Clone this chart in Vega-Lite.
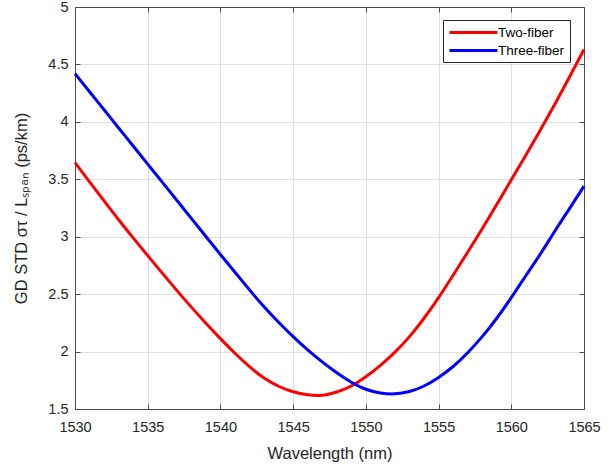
{
  "$schema": "https://vega.github.io/schema/vega-lite/v6.json",
  "width": 509,
  "height": 402,
  "autosize": {"type": "none"},
  "padding": {"left": 75, "top": 7, "right": 32, "bottom": 55},
  "background": "white",
  "config": {
    "view": {"stroke": null},
    "font": "Liberation Sans",
    "axis": {
      "domainColor": "#4d4d4d",
      "domainWidth": 1,
      "tickColor": "#4d4d4d",
      "tickSize": -5,
      "tickWidth": 1,
      "gridColor": "#dfdfdf",
      "gridWidth": 1,
      "labelFont": "Liberation Sans",
      "labelFontSize": 14.5,
      "labelColor": "#262626",
      "labelFlush": false,
      "titleFont": "Liberation Sans",
      "titleFontSize": 16.5,
      "titleFontWeight": "normal",
      "titleColor": "#262626"
    }
  },
  "data": {
    "values": [
      {"wavelength": 1530, "series": "Two-fiber", "gd": 3.645},
      {"wavelength": 1531, "series": "Two-fiber", "gd": 3.478},
      {"wavelength": 1532, "series": "Two-fiber", "gd": 3.312},
      {"wavelength": 1533, "series": "Two-fiber", "gd": 3.148},
      {"wavelength": 1534, "series": "Two-fiber", "gd": 2.99},
      {"wavelength": 1535, "series": "Two-fiber", "gd": 2.835},
      {"wavelength": 1536, "series": "Two-fiber", "gd": 2.683},
      {"wavelength": 1537, "series": "Two-fiber", "gd": 2.533},
      {"wavelength": 1538, "series": "Two-fiber", "gd": 2.387},
      {"wavelength": 1539, "series": "Two-fiber", "gd": 2.247},
      {"wavelength": 1540, "series": "Two-fiber", "gd": 2.113},
      {"wavelength": 1541, "series": "Two-fiber", "gd": 1.985},
      {"wavelength": 1542, "series": "Two-fiber", "gd": 1.868},
      {"wavelength": 1543, "series": "Two-fiber", "gd": 1.77},
      {"wavelength": 1544, "series": "Two-fiber", "gd": 1.698},
      {"wavelength": 1545, "series": "Two-fiber", "gd": 1.65},
      {"wavelength": 1546, "series": "Two-fiber", "gd": 1.624},
      {"wavelength": 1547, "series": "Two-fiber", "gd": 1.62},
      {"wavelength": 1548, "series": "Two-fiber", "gd": 1.648},
      {"wavelength": 1549, "series": "Two-fiber", "gd": 1.7},
      {"wavelength": 1550, "series": "Two-fiber", "gd": 1.78},
      {"wavelength": 1551, "series": "Two-fiber", "gd": 1.88},
      {"wavelength": 1552, "series": "Two-fiber", "gd": 1.995},
      {"wavelength": 1553, "series": "Two-fiber", "gd": 2.13},
      {"wavelength": 1554, "series": "Two-fiber", "gd": 2.29},
      {"wavelength": 1555, "series": "Two-fiber", "gd": 2.47},
      {"wavelength": 1556, "series": "Two-fiber", "gd": 2.665},
      {"wavelength": 1557, "series": "Two-fiber", "gd": 2.865},
      {"wavelength": 1558, "series": "Two-fiber", "gd": 3.07},
      {"wavelength": 1559, "series": "Two-fiber", "gd": 3.28},
      {"wavelength": 1560, "series": "Two-fiber", "gd": 3.495},
      {"wavelength": 1561, "series": "Two-fiber", "gd": 3.71},
      {"wavelength": 1562, "series": "Two-fiber", "gd": 3.93},
      {"wavelength": 1563, "series": "Two-fiber", "gd": 4.155},
      {"wavelength": 1564, "series": "Two-fiber", "gd": 4.39},
      {"wavelength": 1565, "series": "Two-fiber", "gd": 4.63},
      {"wavelength": 1530, "series": "Three-fiber", "gd": 4.42},
      {"wavelength": 1531, "series": "Three-fiber", "gd": 4.262},
      {"wavelength": 1532, "series": "Three-fiber", "gd": 4.105},
      {"wavelength": 1533, "series": "Three-fiber", "gd": 3.947},
      {"wavelength": 1534, "series": "Three-fiber", "gd": 3.79},
      {"wavelength": 1535, "series": "Three-fiber", "gd": 3.632},
      {"wavelength": 1536, "series": "Three-fiber", "gd": 3.475},
      {"wavelength": 1537, "series": "Three-fiber", "gd": 3.317},
      {"wavelength": 1538, "series": "Three-fiber", "gd": 3.16},
      {"wavelength": 1539, "series": "Three-fiber", "gd": 3.002},
      {"wavelength": 1540, "series": "Three-fiber", "gd": 2.845},
      {"wavelength": 1541, "series": "Three-fiber", "gd": 2.69},
      {"wavelength": 1542, "series": "Three-fiber", "gd": 2.537},
      {"wavelength": 1543, "series": "Three-fiber", "gd": 2.39},
      {"wavelength": 1544, "series": "Three-fiber", "gd": 2.255},
      {"wavelength": 1545, "series": "Three-fiber", "gd": 2.13},
      {"wavelength": 1546, "series": "Three-fiber", "gd": 2.015},
      {"wavelength": 1547, "series": "Three-fiber", "gd": 1.91},
      {"wavelength": 1548, "series": "Three-fiber", "gd": 1.815},
      {"wavelength": 1549, "series": "Three-fiber", "gd": 1.733},
      {"wavelength": 1550, "series": "Three-fiber", "gd": 1.672},
      {"wavelength": 1551, "series": "Three-fiber", "gd": 1.64},
      {"wavelength": 1552, "series": "Three-fiber", "gd": 1.632},
      {"wavelength": 1553, "series": "Three-fiber", "gd": 1.652},
      {"wavelength": 1554, "series": "Three-fiber", "gd": 1.7},
      {"wavelength": 1555, "series": "Three-fiber", "gd": 1.775},
      {"wavelength": 1556, "series": "Three-fiber", "gd": 1.87},
      {"wavelength": 1557, "series": "Three-fiber", "gd": 1.99},
      {"wavelength": 1558, "series": "Three-fiber", "gd": 2.13},
      {"wavelength": 1559, "series": "Three-fiber", "gd": 2.29},
      {"wavelength": 1560, "series": "Three-fiber", "gd": 2.47},
      {"wavelength": 1561, "series": "Three-fiber", "gd": 2.66},
      {"wavelength": 1562, "series": "Three-fiber", "gd": 2.85},
      {"wavelength": 1563, "series": "Three-fiber", "gd": 3.05},
      {"wavelength": 1564, "series": "Three-fiber", "gd": 3.245},
      {"wavelength": 1565, "series": "Three-fiber", "gd": 3.44}
    ]
  },
  "layer": [
    {
      "mark": {"type": "line", "strokeWidth": 3, "interpolate": "natural"},
      "encoding": {
        "x": {
          "field": "wavelength",
          "type": "quantitative",
          "scale": {"domain": [1530, 1565], "nice": false, "zero": false},
          "axis": {
            "title": "Wavelength (nm)",
            "values": [1530, 1535, 1540, 1545, 1550, 1555, 1560, 1565],
            "format": "d",
            "labelPadding": 16,
            "titlePadding": 12
          }
        },
        "y": {
          "field": "gd",
          "type": "quantitative",
          "scale": {"domain": [1.5, 5], "nice": false, "zero": false},
          "axis": {
            "title": "GD STD στ / Lₛₚₐₙ (ps/km)",
            "values": [1.5, 2, 2.5, 3, 3.5, 4, 4.5, 5],
            "format": "~g",
            "labelPadding": 12,
            "titlePadding": 18
          }
        },
        "color": {
          "field": "series",
          "type": "nominal",
          "scale": {"domain": ["Two-fiber", "Three-fiber"], "range": ["#ff0000", "#0000ff"]},
          "legend": {
            "title": null,
            "orient": "none",
            "legendX": 368,
            "legendY": 13,
            "direction": "vertical",
            "symbolType": "M-1,0L7,0",
            "symbolSize": 144,
            "symbolStrokeWidth": 3,
            "labelOffset": 35,
            "labelFont": "Liberation Sans",
            "labelFontSize": 13.5,
            "labelColor": "#000000",
            "rowPadding": 4,
            "padding": 5,
            "strokeColor": "#262626",
            "fillColor": "white",
            "cornerRadius": 0
          }
        }
      }
    },
    {
      "mark": {"type": "line", "opacity": 0},
      "encoding": {
        "x": {
          "field": "wavelength",
          "type": "quantitative",
          "scale": {"domain": [1530, 1565], "nice": false, "zero": false},
          "axis": {"orient": "top", "labels": false, "title": null, "grid": false, "values": [1530, 1535, 1540, 1545, 1550, 1555, 1560, 1565]}
        },
        "y": {
          "field": "gd",
          "type": "quantitative",
          "scale": {"domain": [1.5, 5], "nice": false, "zero": false},
          "axis": {"orient": "right", "labels": false, "title": null, "grid": false, "values": [1.5, 2, 2.5, 3, 3.5, 4, 4.5, 5]}
        },
        "detail": {"field": "series"}
      }
    }
  ],
  "resolve": {"axis": {"x": "independent", "y": "independent"}}
}
